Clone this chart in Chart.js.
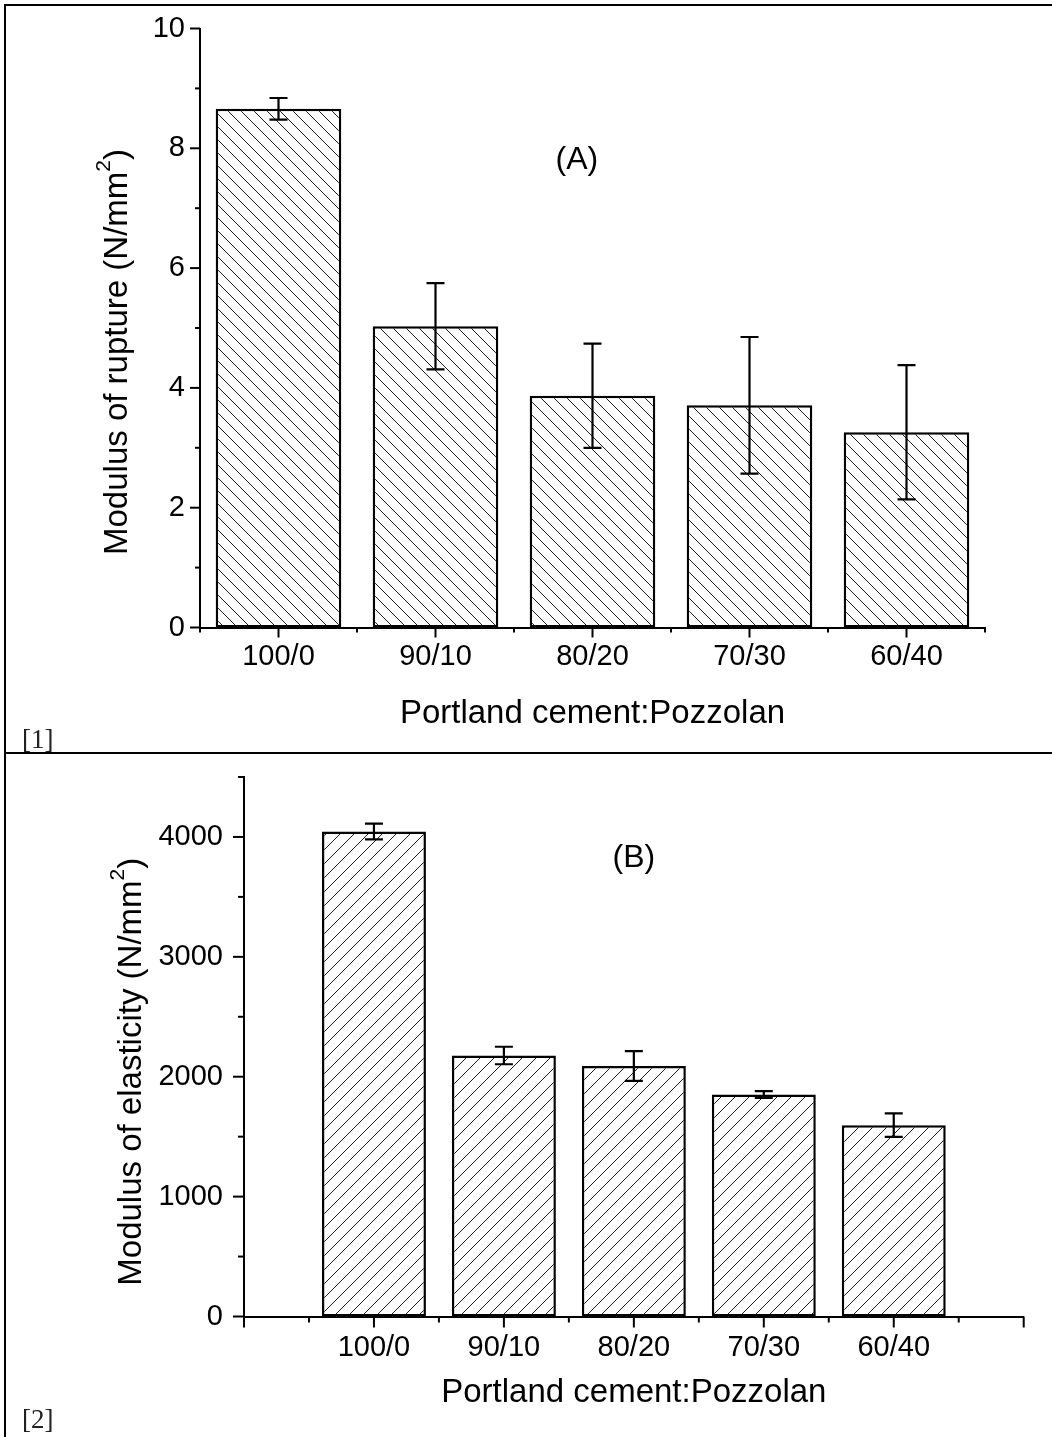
<!DOCTYPE html>
<html>
<head>
<meta charset="utf-8">
<script src="https://cdn.jsdelivr.net/npm/chart.js@4.4.1/dist/chart.umd.min.js"></script>
<style>
  body { margin: 0; background: #fff; }
  #page { position: relative; width: 1052px; height: 1437px; overflow: hidden; background: #fff; }
  canvas { position: absolute; left: 0; }
  #chartA { top: 0; }
  #chartB { top: 754px; }
  .rule { position: absolute; background: #000; }
  .ref { position: absolute; font-family: "Liberation Serif", "Times New Roman", serif; font-size: 27px; color: #222; line-height: 1; }
</style>
</head>
<body>
<div id="page">
  <canvas id="chartA" width="1052" height="752"></canvas>
  <canvas id="chartB" width="1052" height="683"></canvas>
  <div class="ref" style="left:22px;top:726px">[1]</div>
  <div class="ref" style="left:22px;top:1406px">[2]</div>
  <div class="rule" style="left:4px;top:4px;width:1048px;height:2px"></div>
  <div class="rule" style="left:4px;top:4px;width:2px;height:1433px"></div>
  <div class="rule" style="left:4px;top:752px;width:1048px;height:2px"></div>
</div>
<script>
// data
const categories = ['100/0', '90/10', '80/20', '70/30', '60/40'];
const ruptureValues = [8.66, 5.03, 3.87, 3.71, 3.26];
const ruptureErrors = [0.18, 0.72, 0.87, 1.14, 1.12];
const elasticityValues = [4045, 2177, 2090, 1852, 1596];
const elasticityErrors = [66, 73, 124, 28, 98];
const ruptureTicks = [0, 2, 4, 6, 8, 10];
const elasticityTicks = [0, 1000, 2000, 3000, 4000];

const FONT = '"Liberation Sans", Arial, sans-serif';

// diagonal hatch tile
function hatch(size, dir) {
  const c = document.createElement('canvas');
  c.width = size;
  c.height = size;
  const g = c.getContext('2d');
  g.fillStyle = '#fff';
  g.fillRect(0, 0, size, size);
  g.strokeStyle = '#1a1a1a';
  g.lineWidth = 1;
  for (let k = -1; k <= 1; k++) {
    g.beginPath();
    if (dir === 'back') {
      g.moveTo(k * size, 0);
      g.lineTo(k * size + size, size);
    } else {
      g.moveTo(k * size, size);
      g.lineTo(k * size + size, 0);
    }
    g.stroke();
  }
  return g.createPattern(c, 'repeat');
}

const errorBars = {
  id: 'errorBars',
  afterDatasetsDraw(chart, args, opts) {
    const { ctx, scales: { x, y } } = chart;
    const ds = chart.data.datasets[0];
    ctx.save();
    ctx.strokeStyle = '#000';
    ctx.lineWidth = 2.2;
    ds.data.forEach((p, i) => {
      const e = opts.errors[i];
      const px = x.getPixelForValue(p.x);
      const top = y.getPixelForValue(p.y + e);
      const bot = y.getPixelForValue(p.y - e);
      ctx.beginPath();
      ctx.moveTo(px, top);
      ctx.lineTo(px, bot);
      ctx.moveTo(px - opts.cap, top);
      ctx.lineTo(px + opts.cap, top);
      ctx.moveTo(px - opts.cap, bot);
      ctx.lineTo(px + opts.cap, bot);
      ctx.stroke();
    });
    ctx.restore();
  }
};

// Origin-style tick marks, axis titles and panel tag
const axisDecor = {
  id: 'axisDecor',
  afterDraw(chart, args, o) {
    const { ctx, chartArea: a, scales: { x, y } } = chart;
    ctx.save();
    ctx.strokeStyle = '#000';
    ctx.lineWidth = 2;

    const marks = (scale, t, horiz) => {
      const n = Math.round((scale.max - scale.min) / t.minor);
      for (let i = 0; i <= n; i++) {
        const v = scale.min + i * t.minor;
        const r = v / t.major;
        const len = Math.abs(r - Math.round(r)) < 1e-6 ? t.majorLen : t.minorLen;
        const p = scale.getPixelForValue(v);
        ctx.beginPath();
        if (horiz) {
          ctx.moveTo(p, a.bottom);
          ctx.lineTo(p, a.bottom + len);
        } else {
          ctx.moveTo(a.left, p);
          ctx.lineTo(a.left - len, p);
        }
        ctx.stroke();
      }
    };
    marks(x, o.xMarks, true);
    marks(y, o.yMarks, false);

    ctx.fillStyle = '#000';
    ctx.textBaseline = 'alphabetic';
    ctx.textAlign = 'center';
    ctx.font = `33px ${FONT}`;
    ctx.fillText(o.xTitle, (a.left + a.right) / 2, a.bottom + o.xTitleOffset);

    // rotated y title with superscript
    ctx.save();
    ctx.translate(a.left - o.yTitleOffset, (a.top + a.bottom) / 2 + o.yTitleShift);
    ctx.rotate(-Math.PI / 2);
    ctx.textAlign = 'left';
    const [main, sup, tail] = o.yTitle;
    ctx.font = `33px ${FONT}`;
    const w1 = ctx.measureText(main).width;
    const w3 = ctx.measureText(tail).width;
    ctx.font = `21px ${FONT}`;
    const w2 = ctx.measureText(sup).width;
    let sx = -(w1 + w2 + w3) / 2;
    ctx.font = `33px ${FONT}`;
    ctx.fillText(main, sx, 0);
    sx += w1;
    ctx.font = `21px ${FONT}`;
    ctx.fillText(sup, sx, -17);
    sx += w2;
    ctx.font = `33px ${FONT}`;
    ctx.fillText(tail, sx, 0);
    ctx.restore();

    ctx.font = `32px ${FONT}`;
    ctx.textBaseline = 'middle';
    ctx.fillText(o.tag.text, x.getPixelForValue(o.tag.x), y.getPixelForValue(o.tag.y));
    ctx.restore();
  }
};

function buildChart(id, p) {
  const ctx = document.getElementById(id).getContext('2d');
  return new Chart(ctx, {
    type: 'bar',
    data: {
      datasets: [{
        data: categories.map((c, i) => ({ x: i + 1, y: p.values[i] })),
        backgroundColor: hatch(p.hatchSize, p.hatchDir),
        borderColor: '#000',
        borderWidth: 2.5,
        borderSkipped: false,
        barPercentage: 0.8,
        categoryPercentage: 1
      }]
    },
    options: {
      responsive: false,
      animation: false,
      layout: { padding: p.padding },
      scales: {
        x: {
          type: 'linear',
          min: p.xMin,
          max: p.xMax,
          offset: false,
          grid: { display: false, drawTicks: false },
          border: { display: true, color: '#000', width: 2 },
          afterBuildTicks: s => { s.ticks = categories.map((c, i) => ({ value: i + 1 })); },
          afterFit: s => {
            s.height = p.xHeight;
            s.paddingLeft = 0;
            s.paddingRight = 0;
          },
          ticks: {
            padding: p.xPad,
            color: '#000',
            maxRotation: 0,
            autoSkip: false,
            font: { family: FONT, size: 29 },
            callback: v => categories[v - 1] ?? ''
          }
        },
        y: {
          type: 'linear',
          min: p.yMin,
          max: p.yMax,
          grid: { display: false, drawTicks: false },
          border: { display: true, color: '#000', width: 2 },
          afterBuildTicks: s => { s.ticks = p.yTicks.map(v => ({ value: v })); },
          afterFit: s => {
            // keep label overhang from pushing the plot area around
            s.width = p.yWidth;
            s.paddingTop = 0;
            s.paddingBottom = 0;
          },
          ticks: {
            padding: p.yPad,
            color: '#000',
            font: { family: FONT, size: 29 },
            callback: v => String(v)
          }
        }
      },
      plugins: {
        legend: { display: false },
        tooltip: { enabled: false },
        errorBars: { errors: p.errors, cap: 9 },
        axisDecor: p.decor
      }
    },
    plugins: [errorBars, axisDecor]
  });
}

buildChart('chartA', {
  values: ruptureValues,
  errors: ruptureErrors,
  yTicks: ruptureTicks,
  hatchSize: 13,
  hatchDir: 'back',
  padding: { left: 0, top: 28.5, right: 67, bottom: 0 },
  xMin: 0.5, xMax: 5.5, xHeight: 124.5, xPad: 12,
  yMin: 0, yMax: 10, yWidth: 200, yPad: 15,
  decor: {
    xMarks: { minor: 0.5, major: 1, majorLen: 10, minorLen: 5 },
    yMarks: { minor: 1, major: 2, majorLen: 10, minorLen: 5 },
    xTitle: 'Portland cement:Pozzolan',
    xTitleOffset: 95.5,
    yTitle: ['Modulus of rupture (N/mm', '2', ')'],
    yTitleOffset: 73,
    yTitleShift: 24,
    tag: { text: '(A)', x: 2.9, y: 7.8 }
  }
});

buildChart('chartB', {
  values: elasticityValues,
  errors: elasticityErrors,
  yTicks: elasticityTicks,
  hatchSize: 14,
  hatchDir: 'fwd',
  padding: { left: 0, top: 23, right: 28.3, bottom: 0 },
  xMin: 0, xMax: 6, xHeight: 120.5, xPad: 14,
  yMin: 0, yMax: 4500, yWidth: 244, yPad: 21,
  decor: {
    xMarks: { minor: 0.5, major: 1, majorLen: 11, minorLen: 6 },
    yMarks: { minor: 500, major: 1000, majorLen: 11, minorLen: 6 },
    xTitle: 'Portland cement:Pozzolan',
    xTitleOffset: 85.5,
    yTitle: ['Modulus of elasticity (N/mm', '2', ')'],
    yTitleOffset: 103,
    yTitleShift: 25,
    tag: { text: '(B)', x: 3.0, y: 3820 }
  }
});
</script>
</body>
</html>
